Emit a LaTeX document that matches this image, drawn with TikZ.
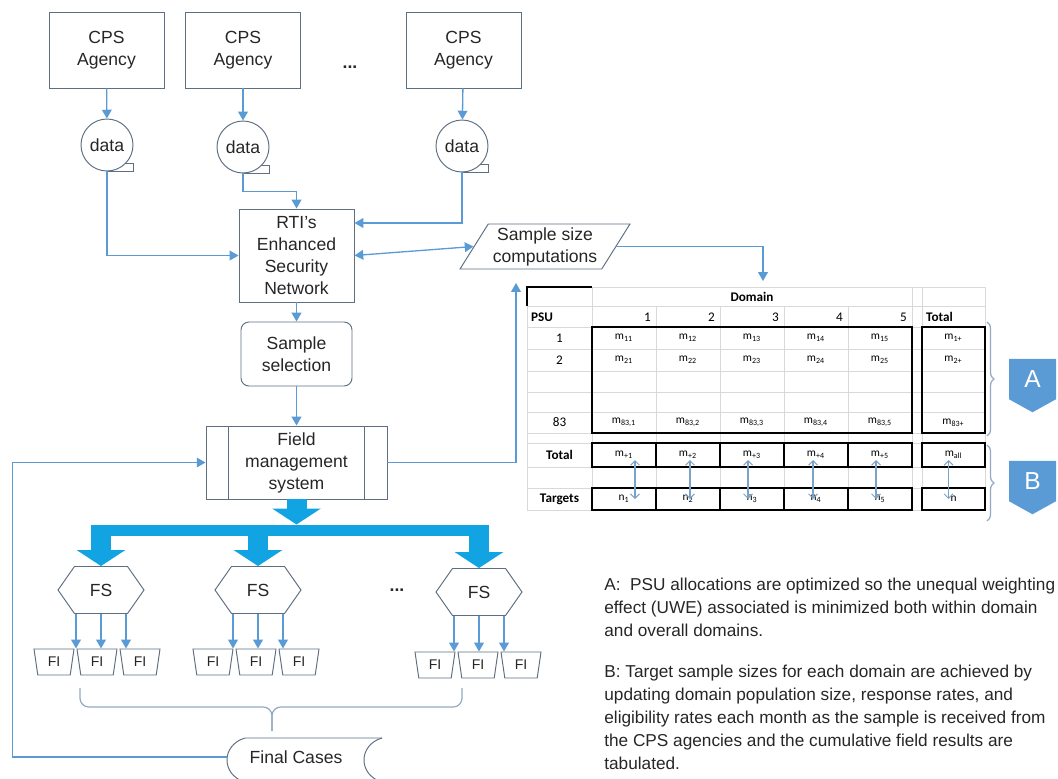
\documentclass[tikz,border=0pt]{standalone}
\usepackage{fontspec}
\setmainfont{Liberation Sans}
\newfontfamily\tabfont{Carlito}
\usetikzlibrary{arrows.meta,shapes.geometric,shapes.symbols,decorations.pathreplacing}

\definecolor{edgegray}{HTML}{5E6F82}
\definecolor{flowblue}{HTML}{5B9BD5}
\definecolor{fatblue}{HTML}{12A3E3}
\definecolor{gridgray}{HTML}{D9D9D9}
\definecolor{bracegray}{HTML}{93AAC2}
\definecolor{badgeblue}{HTML}{5B9BD5}
\definecolor{tabblue}{HTML}{7BA3C8}
\definecolor{inkgray}{HTML}{262626}

\tikzset{
  shapebox/.style={draw=edgegray, line width=0.55pt, align=center, inner sep=1pt, text=inkgray, font=\fontsize{10}{12.5}\selectfont},
  agency/.style={shapebox, minimum width=2.3cm, minimum height=1.52cm},
  datastore/.style={shapebox, circle, minimum size=1.04cm, inner sep=0pt},
  network/.style={shapebox, minimum width=2.3cm, minimum height=1.86cm},
  compute/.style={shapebox, trapezium, trapezium left angle=56, trapezium right angle=124, trapezium stretches body, minimum width=3.4cm, minimum height=0.9cm},
  selection/.style={shapebox, rounded corners=4.5pt, minimum width=2.22cm, minimum height=1.28cm},
  process/.style={shapebox, minimum width=3.62cm, minimum height=1.46cm},
  supervisor/.style={shapebox, signal, signal to=west and east, signal pointer angle=110, minimum width=1.72cm, minimum height=0.94cm},
  interviewer/.style={shapebox, trapezium, trapezium left angle=106, trapezium right angle=106, trapezium stretches body, minimum width=0.8cm, minimum height=0.52cm, font=\fontsize{8}{9}\selectfont},
  flow/.style={draw=flowblue, line width=0.75pt, -{Triangle[width=5.5pt,length=5pt]}},
  twoway/.style={flow, {Triangle[width=5.5pt,length=5pt]}-{Triangle[width=5.5pt,length=5pt]}},
  fat/.style={draw=fatblue, line width=0.4cm, -{Triangle[width=0.96cm,length=0.32cm]}},
  fatbar/.style={draw=fatblue, line width=0.22cm},
  bracket/.style={draw=bracegray, line width=0.7pt, rounded corners=5pt},
  sidebrace/.style={draw=bracegray, line width=0.7pt, decorate, decoration={brace, amplitude=0.14cm}},
  badge/.style={signal, signal to=south, signal pointer angle=122, fill=badgeblue, text=white, minimum width=0.94cm, minimum height=0.9cm, inner sep=0pt, font=\fontsize{14}{14}\selectfont},
  cellgrid/.style={draw=gridgray, line width=0.4pt},
  cellbox/.style={draw=black, line width=1.1pt},
  cell/.style={inner sep=1pt, font=\tabfont\fontsize{7.5}{8}\selectfont},
  headcell/.style={inner sep=1pt, font=\tabfont\bfseries\fontsize{7.5}{8}\selectfont},
  mcell/.style={inner sep=1pt, font=\tabfont\fontsize{6.5}{7}\selectfont},
  tabarrow/.style={draw=tabblue, line width=0.6pt, {Straight Barb[length=2.5pt,width=5pt]}-{Straight Barb[length=2.5pt,width=5pt]}},
  note/.style={align=left, inner sep=0pt, text=inkgray, font=\fontsize{9.8}{13.1}\selectfont},
}

\begin{document}
\begin{tikzpicture}[x=0.02cm, y=-0.02cm]
  \useasboundingbox (0,0) rectangle (1058,778);

  % Agencies and their data
  \node[agency] (ag1) at (106.5,50) {CPS\\Agency};
  \node[agency] (ag2) at (243,50) {CPS\\Agency};
  \node[agency] (ag3) at (463.5,50) {CPS\\Agency};
  \node[text=inkgray] (agdots) at (350,67) {\textbf{...}};

  \node[datastore] (d1) at (107,145) {data};
  \node[datastore] (d2) at (243,147) {data};
  \node[datastore] (d3) at (462,146) {data};
  \draw[draw=edgegray, line width=0.55pt] (d1.south) -- ++(26,0) -- ++(0,-8) -- ++(-8,0);
  \draw[draw=edgegray, line width=0.55pt] (d2.south) -- ++(26,0) -- ++(0,-8) -- ++(-8,0);
  \draw[draw=edgegray, line width=0.55pt] (d3.south) -- ++(26,0) -- ++(0,-8) -- ++(-8,0);

  % Main flow
  \node[network] (rti) at (296.5,255.5) {RTI’s\\Enhanced\\Security\\Network};
  \node[compute] (ssc) at (545,246.5) {Sample size\\computations};
  \node[selection] (sel) at (296.5,354) {Sample\\selection};
  \node[process] (fm) at (296.5,462.5) {Field\\management\\system};
  \draw[draw=edgegray, line width=0.55pt] ([xshift=0.46cm]fm.north west) -- ([xshift=0.46cm]fm.south west);
  \draw[draw=edgegray, line width=0.55pt] ([xshift=-0.46cm]fm.north east) -- ([xshift=-0.46cm]fm.south east);

  \coordinate (tabin) at (763,281);
  \coordinate (sscin) at (516,283);
  \coordinate (bar) at (0,530);
  \coordinate (bartop) at (0,524.5);

  % Draw arrows between the nodes
  \draw[flow] (ag1) -- (d1);
  \draw[flow] (ag2) -- (d2);
  \draw[flow] (ag3) -- (d3);
  \draw[flow] (d1.south) |- (rti.west);
  \draw[flow] (d2.south) -- ++(0,18) -| (rti.north);
  \draw[flow] (d3.south) |- ([yshift=0.65cm]rti.east);
  \draw[twoway] (rti.east) -- (ssc.west);
  \draw[flow] (ssc.east) -| (tabin);
  \draw[flow] (rti) -- (sel);
  \draw[flow] (sel) -- (fm);
  \draw[flow] (fm.east) -| (sscin);

  % Field supervisors and interviewers
  \node[supervisor] (fs1) at (101,590) {FS};
  \node[supervisor] (fs2) at (258,590) {FS};
  \node[supervisor] (fs3) at (479,592) {FS};
  \node[text=inkgray] (fsdots) at (397,590) {\textbf{...}};

  \draw[fat] (fm.south) -- (fm.south |- bartop);
  \draw[fatbar] ([xshift=-0.2cm]fs1.north |- bar) -- ([xshift=0.2cm]fs3.north |- bar);
  \draw[fat] (fs1.north |- bartop) -- (fs1.north);
  \draw[fat] (fs2.north |- bartop) -- (fs2.north);
  \draw[fat] (fs3.north |- bartop) -- (fs3.north);

  \node[interviewer] (fi1) at (54,662) {FI};
  \node[interviewer] (fi2) at (97,662) {FI};
  \node[interviewer] (fi3) at (140,662) {FI};
  \node[interviewer] (fi4) at (213,662) {FI};
  \node[interviewer] (fi5) at (256,662) {FI};
  \node[interviewer] (fi6) at (299,662) {FI};
  \node[interviewer] (fi7) at (435,665) {FI};
  \node[interviewer] (fi8) at (478,665) {FI};
  \node[interviewer] (fi9) at (521,665) {FI};

  \draw[flow] ([xshift=-0.5cm]fs1.south) -- ([xshift=-0.5cm]fs1.south |- fi2.north);
  \draw[flow] (fs1.south) -- (fs1.south |- fi2.north);
  \draw[flow] ([xshift=0.5cm]fs1.south) -- ([xshift=0.5cm]fs1.south |- fi2.north);
  \draw[flow] ([xshift=-0.5cm]fs2.south) -- ([xshift=-0.5cm]fs2.south |- fi5.north);
  \draw[flow] (fs2.south) -- (fs2.south |- fi5.north);
  \draw[flow] ([xshift=0.5cm]fs2.south) -- ([xshift=0.5cm]fs2.south |- fi5.north);
  \draw[flow] ([xshift=-0.5cm]fs3.south) -- ([xshift=-0.5cm]fs3.south |- fi8.north);
  \draw[flow] (fs3.south) -- (fs3.south |- fi8.north);
  \draw[flow] ([xshift=0.5cm]fs3.south) -- ([xshift=0.5cm]fs3.south |- fi8.north);

  % Final cases and the way back
  \draw[bracket] (80,688) -- (80,707) -- (272,707) -- (272,731);
  \draw[bracket] (462,688) -- (462,707) -- (272,707) -- (272,731);
  \node[text=inkgray, font=\fontsize{10}{12.5}\selectfont, minimum width=2.76cm] (fc) at (296,757) {Final Cases};
  \draw[draw=edgegray, line width=0.55pt] (382,738) -- (245,738) .. controls (221,745) and (221,775) .. (245,782) -- (382,782);
  \draw[draw=edgegray, line width=0.55pt] (382,738) .. controls (358,745) and (358,775) .. (382,782);
  \draw[flow] (fc.west) -| ([xshift=-3.86cm]fm.west) -- (fm.west);

  % Table of domain allocations
  \draw[cellgrid] (527,287) -- (985,287) (527,306) -- (985,306) (527,327) -- (985,327)
    (527,349) -- (985,349) (527,371) -- (985,371) (527,392) -- (985,392)
    (527,412) -- (985,412) (527,433) -- (985,433) (527,443) -- (985,443)
    (527,467) -- (985,467) (527,488) -- (985,488) (527,510) -- (985,510);
  \draw[cellgrid] (527,287) -- (527,510) (592,287) -- (592,510) (656,306) -- (656,510)
    (720,306) -- (720,510) (784,306) -- (784,510) (848,306) -- (848,510)
    (912,287) -- (912,510) (922,287) -- (922,510) (985,287) -- (985,510);
  \draw[draw=black, line width=0.8pt] (527,306) -- (527,287) -- (592,287);
  \draw[cellbox] (592,327) rectangle (912,433) (922,327) rectangle (985,433);
  \draw[cellbox] (592,443) rectangle (912,467) (656,443) -- (656,467) (720,443) -- (720,467)
    (784,443) -- (784,467) (848,443) -- (848,467) (922,443) rectangle (985,467);
  \draw[cellbox] (592,488) rectangle (912,510) (656,488) -- (656,510) (720,488) -- (720,510)
    (784,488) -- (784,510) (848,488) -- (848,510) (922,488) rectangle (985,510);

  \node[headcell] (domain) at (752,297) {Domain};
  \node[headcell, anchor=west] (psu) at (529,317) {PSU};
  \node[cell, anchor=east] (dom1) at (653,317) {1};
  \node[cell, anchor=east] (dom2) at (717,317) {2};
  \node[cell, anchor=east] (dom3) at (781,317) {3};
  \node[cell, anchor=east] (dom4) at (845,317) {4};
  \node[cell, anchor=east] (dom5) at (909,317) {5};
  \node[headcell, anchor=west] (tothead) at (924,317) {Total};

  \node[cell] (psu1) at (559.5,338) {1};
  \node[mcell] (m11) at (624,338) {m\textsubscript{11}};
  \node[mcell] (m12) at (688,338) {m\textsubscript{12}};
  \node[mcell] (m13) at (752,338) {m\textsubscript{13}};
  \node[mcell] (m14) at (816,338) {m\textsubscript{14}};
  \node[mcell] (m15) at (880,338) {m\textsubscript{15}};
  \node[mcell] (m1p) at (953.5,338) {m\textsubscript{1+}};

  \node[cell] (psu2) at (559.5,360) {2};
  \node[mcell] (m21) at (624,360) {m\textsubscript{21}};
  \node[mcell] (m22) at (688,360) {m\textsubscript{22}};
  \node[mcell] (m23) at (752,360) {m\textsubscript{23}};
  \node[mcell] (m24) at (816,360) {m\textsubscript{24}};
  \node[mcell] (m25) at (880,360) {m\textsubscript{25}};
  \node[mcell] (m2p) at (953.5,360) {m\textsubscript{2+}};

  \node[cell] (psu83) at (559.5,422.5) {83};
  \node[mcell] (m831) at (624,422.5) {m\textsubscript{83,1}};
  \node[mcell] (m832) at (688,422.5) {m\textsubscript{83,2}};
  \node[mcell] (m833) at (752,422.5) {m\textsubscript{83,3}};
  \node[mcell] (m834) at (816,422.5) {m\textsubscript{83,4}};
  \node[mcell] (m835) at (880,422.5) {m\textsubscript{83,5}};
  \node[mcell] (m83p) at (953.5,422.5) {m\textsubscript{83+}};

  \node[headcell] (rowtot) at (559.5,455) {Total};
  \node[mcell] (mp1) at (624,455) {m\textsubscript{+1}};
  \node[mcell] (mp2) at (688,455) {m\textsubscript{+2}};
  \node[mcell] (mp3) at (752,455) {m\textsubscript{+3}};
  \node[mcell] (mp4) at (816,455) {m\textsubscript{+4}};
  \node[mcell] (mp5) at (880,455) {m\textsubscript{+5}};
  \node[mcell] (mall) at (953.5,455) {m\textsubscript{all}};

  \node[headcell] (rowtgt) at (559.5,499) {Targets};
  \node[mcell] (n1) at (624,499) {n\textsubscript{1}};
  \node[mcell] (n2) at (688,499) {n\textsubscript{2}};
  \node[mcell] (n3) at (752,499) {n\textsubscript{3}};
  \node[mcell] (n4) at (816,499) {n\textsubscript{4}};
  \node[mcell] (n5) at (880,499) {n\textsubscript{5}};
  \node[mcell] (nall) at (953.5,499) {n};

  \draw[tabarrow] ([xshift=0.22cm,yshift=-0.1cm]mp1.center) -- ([xshift=0.22cm]n1.center);
  \draw[tabarrow] ([xshift=0.04cm,yshift=-0.1cm]mp2.center) -- ([xshift=0.04cm]n2.center);
  \draw[tabarrow] ([xshift=-0.08cm,yshift=-0.1cm]mp3.center) -- ([xshift=-0.08cm]n3.center);
  \draw[tabarrow] ([xshift=-0.06cm,yshift=-0.1cm]mp4.center) -- ([xshift=-0.06cm]n4.center);
  \draw[tabarrow] ([xshift=-0.08cm,yshift=-0.1cm]mp5.center) -- ([xshift=-0.08cm]n5.center);
  \draw[tabarrow] ([xshift=-0.1cm,yshift=-0.1cm]mall.center) -- ([xshift=-0.1cm]nall.center);

  % Braces and tags A and B
  \draw[sidebrace] (987,322) -- (987,436);
  \draw[sidebrace] (987,445) -- (987,521);
  \node[badge] (tagA) at (1032.5,379) {A};
  \node[badge] (tagB) at (1032.5,481) {B};

  % Notes
  \node[note, anchor=north west] (noteA) at (604,578) {A:~ PSU allocations are optimized so the unequal weighting\\effect (UWE) associated is minimized both within domain\\and overall domains.};
  \node[note, anchor=north west] (noteB) at (604,665) {B: Target sample sizes for each domain are achieved by\\updating domain population size, response rates, and\\eligibility rates each month as the sample is received from\\the CPS agencies and the cumulative field results are\\tabulated.};
\end{tikzpicture}
\end{document}
